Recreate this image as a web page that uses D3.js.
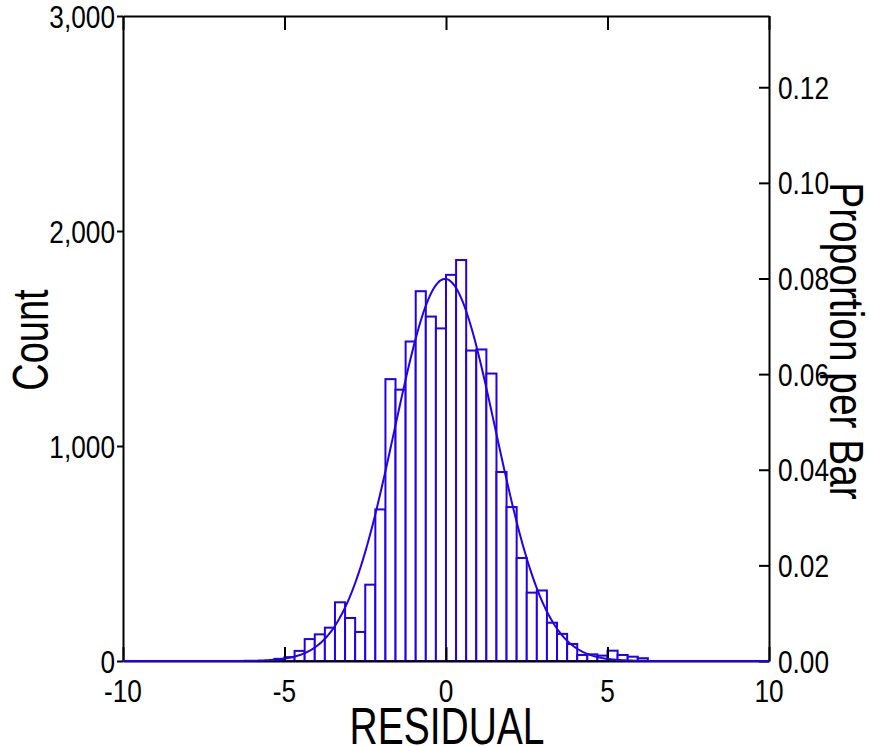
<!DOCTYPE html>
<html>
<head>
<meta charset="utf-8">
<script src="https://cdn.jsdelivr.net/npm/d3@7"></script>
<style>
	body { margin: 0; background: #fff; }
	#chart { width: 869px; height: 746px; }
	text { font-family: "Liberation Sans", Arial, sans-serif; fill: #000; }
	.axis path, .axis line { stroke: #000; stroke-width: 2; }
</style>
</head>
<body>
<div id="chart"></div>
<script>
"use strict"

// histogram of residuals, bins of 0.3125
const binWidth = 0.3125;
const binLefts = [-5.3125, -5.0, -4.6875, -4.375, -4.0625, -3.75, -3.4375, -3.125, -2.8125, -2.5,
	-2.1875, -1.875, -1.5625, -1.25, -0.9375, -0.625, -0.3125, 0.0, 0.3125, 0.625,
	0.9375, 1.25, 1.5625, 1.875, 2.1875, 2.5, 2.8125, 3.125, 3.4375, 3.75,
	4.0625, 4.375, 4.6875, 5.0, 5.3125, 5.625, 5.9375];
const counts = [10, 18, 47, 102, 124, 155, 273, 200, 135, 355,
	705, 1311, 1262, 1486, 1720, 1602, 1547, 1796, 1865, 1444,
	1449, 1337, 879, 716, 479, 318, 328, 178, 126, 79,
	28, 31, 25, 48, 28, 20, 13];

// fitted normal overlay
const fitMean = -0.03;
const fitSd = 1.56;

const xTicks = [-10, -5, 0, 5, 10];
const countTicks = [0, 1000, 2000, 3000];
const propTicks = [0, 0.02, 0.04, 0.06, 0.08, 0.10, 0.12];

const blue = "#2200ee";

let HistogramView = function(targetID) {
	let self = {
		svg: null,
		margin: {left: 123, right: 100, top: 16, bottom: 85},
		totalWidth: 869,
		totalHeight: 746,
		xScale: d3.scaleLinear(),
		yScale: d3.scaleLinear(),
		pScale: d3.scaleLinear(),
	};

	function draw() {
		let m = self.margin;
		let x0 = m.left, x1 = self.totalWidth - m.right;
		let y0 = self.totalHeight - m.bottom, y1 = m.top;
		let total = d3.sum(counts);

		self.xScale.domain([-10, 10]).range([x0, 769]);
		self.yScale.domain([0, 3000]).range([661, y1]);
		self.pScale.domain([0, 3000 / total]).range([661, y1]);

		self.svg = d3.select(targetID).append("svg")
			.attr("width", self.totalWidth)
			.attr("height", self.totalHeight);

		let bins = binLefts.map((b, i) => ({x: b, n: counts[i]}));

		self.svg.append("g").selectAll("rect")
			.data(bins)
			.enter().append("rect")
				.attr("x", d => self.xScale(d.x))
				.attr("y", d => self.yScale(d.n))
				.attr("width", d => self.xScale(d.x + binWidth) - self.xScale(d.x))
				.attr("height", d => self.yScale(0) - self.yScale(d.n))
				.attr("fill", "#fff")
				.attr("stroke", blue)
				.attr("stroke-width", 2);

		// frame + ticks
		self.svg.append("g").attr("class", "axis")
			.attr("transform", "translate(0,661)")
			.call(d3.axisBottom(self.xScale).tickValues(xTicks).tickSize(-14).tickSizeOuter(0).tickFormat(""));
		self.svg.append("g").attr("class", "axis")
			.attr("transform", `translate(0,${y1})`)
			.call(d3.axisTop(self.xScale).tickValues(xTicks).tickSize(-14).tickSizeOuter(0).tickFormat(""));
		self.svg.append("g").attr("class", "axis")
			.attr("transform", `translate(${x0},0)`)
			.call(d3.axisLeft(self.yScale).tickValues(countTicks).tickSize(6).tickSizeOuter(0).tickFormat(""));
		self.svg.append("g").attr("class", "axis")
			.attr("transform", "translate(769,0)")
			.call(d3.axisRight(self.pScale).tickValues(propTicks).tickSize(-10).tickSizeOuter(0).tickFormat(""));

		// normal curve
		let peak = total * binWidth / (fitSd * Math.sqrt(2 * Math.PI));
		let pts = d3.range(-10, 10.001, 0.05).map(v => {
			let z = (v - fitMean) / fitSd;
			return [v, peak * Math.exp(-0.5 * z * z)];
		});
		self.svg.append("path")
			.datum(pts)
			.attr("fill", "none")
			.attr("stroke", blue)
			.attr("stroke-width", 2)
			.attr("d", d3.line().x(d => self.xScale(d[0])).y(d => self.yScale(d[1])));

		// tick labels
		let fmt = d3.format(",");
		self.svg.append("g").selectAll("text")
			.data(countTicks)
			.enter().append("text")
				.attr("transform", d => `translate(115,${self.yScale(d) + 11.5}) scale(0.82,1)`)
				.attr("text-anchor", "end")
				.style("font-size", "32px")
				.text(d => fmt(d));

		self.svg.append("g").selectAll("text")
			.data(xTicks)
			.enter().append("text")
				.attr("transform", d => `translate(${self.xScale(d)},702) scale(0.82,1)`)
				.attr("text-anchor", "middle")
				.style("font-size", "32px")
				.text(d => d);

		self.svg.append("g").selectAll("text")
			.data(propTicks)
			.enter().append("text")
				.attr("transform", d => `translate(778,${self.pScale(d) + 11.5}) scale(0.82,1)`)
				.attr("text-anchor", "start")
				.style("font-size", "32px")
				.text(d => d.toFixed(2));

		// titles
		self.svg.append("text")
			.attr("transform", "translate(48,340) rotate(-90) scale(0.76,1)")
			.attr("text-anchor", "middle")
			.style("font-size", "50px")
			.text("Count");

		self.svg.append("text")
			.attr("transform", "translate(830,341) rotate(90) scale(0.81,1)")
			.attr("text-anchor", "middle")
			.style("font-size", "48px")
			.text("Proportion per Bar");

		self.svg.append("text")
			.attr("transform", "translate(447,744) scale(0.75,1)")
			.attr("text-anchor", "middle")
			.style("font-size", "52px")
			.text("RESIDUAL");
	}

	return { draw };
}

HistogramView("#chart").draw();
</script>
</body>
</html>
